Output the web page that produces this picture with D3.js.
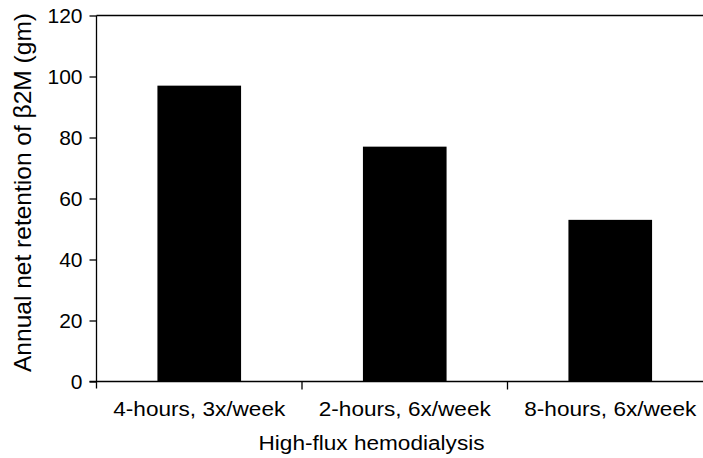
<!DOCTYPE html>
<html>
<head>
<meta charset="utf-8">
<script src="https://cdn.jsdelivr.net/npm/d3@7"></script>
<style>
  html, body { margin: 0; padding: 0; background: #fff; }
  svg { display: block; }
  text { font-family: "Liberation Sans", Arial, sans-serif; fill: #000; }
</style>
</head>
<body>
<svg id="chart" width="703" height="458"></svg>
<script>
const categories = ["4-hours, 3x/week", "2-hours, 6x/week", "8-hours, 6x/week"];
const values = [97, 77, 53];
const yTicks = [0, 20, 40, 60, 80, 100, 120];
const xTitle = "High-flux hemodialysis";
const yTitle = "Annual net retention of \u03B22M (gm)";

const svg = d3.select("#chart");
const x0 = 96.5, x1 = 713, yTop = 15.5, yBot = 381.5;

const y = d3.scaleLinear().domain([0, 120]).range([yBot, yTop]);
const x = d3.scaleBand().domain(categories).range([x0, x1])
  .paddingInner(0.593).paddingOuter(0.2965);

// bars
svg.append("g").selectAll("rect").data(values).join("rect")
  .attr("x", (d, i) => x(categories[i]))
  .attr("y", d => y(d))
  .attr("width", x.bandwidth())
  .attr("height", d => yBot - y(d))
  .attr("fill", "#000");

// top border
svg.append("line").attr("x1", x0).attr("x2", 703).attr("y1", yTop).attr("y2", yTop)
  .attr("stroke", "#000").attr("stroke-width", 1.5);

// y axis
const yAxis = svg.append("g").attr("transform", `translate(${x0},0)`)
  .call(d3.axisLeft(y).tickValues(yTicks).tickSize(7).tickPadding(7).tickFormat(d3.format("d")));
yAxis.select(".domain").attr("d", `M0,${yTop}V${yBot + 7}`).attr("stroke-width", 1.3);
yAxis.selectAll(".tick line").attr("stroke-width", 1.3);
yAxis.selectAll(".tick text").style("font-size", "21px").attr("font-family", null);

// x axis (ticks at band boundaries)
const bounds = categories.map(c => x(c) - x.step() * x.paddingInner() / 2);
const xAxisG = svg.append("g");
xAxisG.append("line").attr("x1", x0 - 7).attr("x2", 703).attr("y1", yBot).attr("y2", yBot)
  .attr("stroke", "#000").attr("stroke-width", 1.3);
xAxisG.selectAll("line.t").data(bounds.slice(1)).join("line").attr("class", "t")
  .attr("x1", d => d).attr("x2", d => d).attr("y1", yBot).attr("y2", yBot + 8)
  .attr("stroke", "#000").attr("stroke-width", 1.3);
xAxisG.selectAll("text").data(categories).join("text")
  .attr("x", d => x(d) + x.bandwidth() / 2)
  .attr("y", 416)
  .attr("text-anchor", "middle")
  .attr("textLength", 172).attr("lengthAdjust", "spacingAndGlyphs")
  .style("font-size", "20px")
  .text(d => d);

// x title
svg.append("text").attr("x", 371.5).attr("y", 450).attr("text-anchor", "middle")
  .attr("textLength", 226).attr("lengthAdjust", "spacingAndGlyphs")
  .style("font-size", "19.5px").text(xTitle);

// y title
svg.append("text").attr("transform", "translate(30.5,192.5) rotate(-90)")
  .attr("text-anchor", "middle")
  .attr("textLength", 359).attr("lengthAdjust", "spacingAndGlyphs")
  .style("font-size", "24px").text(yTitle);
</script>
</body>
</html>
